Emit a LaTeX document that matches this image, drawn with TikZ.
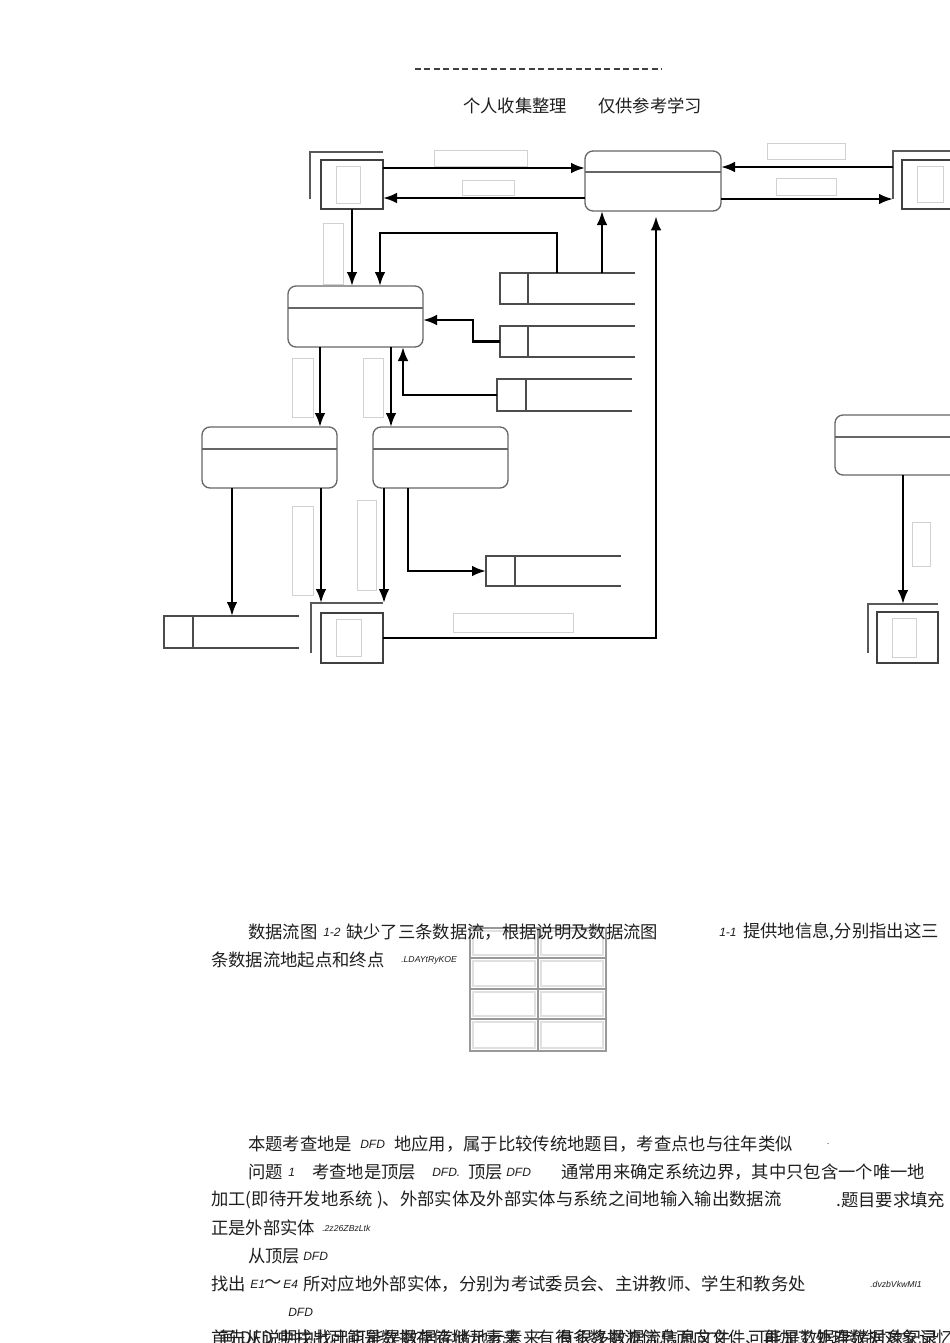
\documentclass[tikz,border=0pt]{standalone}
\usepackage{fontspec}
\setmainfont{Noto Sans CJK SC}
\newfontfamily\hand{Liberation Sans}
\usetikzlibrary{arrows.meta,calc}
\begin{document}
\begin{tikzpicture}[x=0.75pt,y=-0.75pt,
  ent/.style={draw=black!75,line width=1pt,inner sep=0pt,outer sep=0pt,anchor=north west},
  proc/.style={draw=black!60,line width=1pt,rounded corners=6pt,inner sep=0pt,outer sep=0pt,anchor=north west,minimum width=101.25pt,minimum height=45.75pt},
  store/.style={draw=black!70,line width=1pt,inner sep=0pt,outer sep=0pt,anchor=north west},
  sline/.style={draw=black!70,line width=1pt},
  pline/.style={draw=black!60,line width=1pt},
  lshape/.style={draw=black!65,line width=1pt},
  flow/.style={draw=black,line width=1.8pt,-{Latex[length=10.5pt,width=8pt]}},
  lbl/.style={draw=black!18,line width=0.6pt},
  tcell/.style={draw=black!40,line width=1.6pt},
  tcin/.style={draw=black!12,line width=1pt},
  txt/.style={anchor=west,inner sep=0pt,text=black!88,font=\fontsize{13pt}{15pt}\selectfont},
  hw/.style={anchor=west,inner sep=0pt,text=black!88,font=\hand\itshape\fontsize{9pt}{10pt}\selectfont},
  tiny/.style={anchor=west,inner sep=0pt,text=black!88,font=\hand\itshape\fontsize{6.5pt}{7pt}\selectfont}]
\useasboundingbox (0,0) rectangle (950,1343);
\clip (0,0) rectangle (950,1343);
\fill[white] (0,0) rectangle (950,1343);

% header
\draw[black!75,line width=0.9pt,dash pattern=on 4.5pt off 2.6pt] (415,69) -- (662,69);
\node[txt] (h1) at (463,106) {个人收集整理};
\node[txt] (h2) at (598,106) {仅供参考学习};

% processes
\node[proc,minimum width=102pt,minimum height=45pt] (p0) at (585,151) {};
\node[proc] (p1) at (288,286) {};
\node[proc] (p2) at (202,427) {};
\node[proc] (p3) at (373,427) {};
\node[proc,minimum width=150pt,minimum height=45pt] (p4) at (835,415) {};
\draw[pline] (p0.west |- 0,172) -- (p0.east |- 0,172);
\draw[pline] (p1.west |- 0,308) -- (p1.east |- 0,308);
\draw[pline] (p2.west |- 0,449) -- (p2.east |- 0,449);
\draw[pline] (p3.west |- 0,449) -- (p3.east |- 0,449);
\draw[pline] (p4.west |- 0,437) -- (p4.east |- 0,437);

% external entities
\node[ent,minimum width=46.5pt,minimum height=36.75pt] (e1) at (321,160) {};
\node[ent,minimum width=45pt,minimum height=36.75pt] (e2) at (902,160) {};
\node[ent,minimum width=46.5pt,minimum height=37.5pt] (e3) at (321,613) {};
\node[ent,minimum width=45.75pt,minimum height=38.25pt] (e4) at (877,612) {};
\coordinate (e1l) at (310,152);
\coordinate (e2l) at (893,151);
\coordinate (e3l) at (311,603);
\coordinate (e4l) at (868,604);
\draw[lshape] (e1l |- 0,199) -- (e1l) -- (e1.east |- e1l);
\draw[lshape] (e2l |- 0,199) -- (e2l) -- (950,151);
\draw[lshape] (e3l |- 0,653) -- (e3l) -- (e3.east |- e3l);
\draw[lshape] (e4l |- 0,653) -- (e4l) -- (e4.east |- e4l);
\draw[lbl] (336,166) rectangle (360,203);
\draw[lbl] (917,166) rectangle (943,202);
\draw[lbl] (336,619) rectangle (361,656);
\draw[lbl] (892,618) rectangle (916,657);

% data stores
\node[store,minimum width=21pt,minimum height=23.25pt] (d1) at (500,273) {};
\node[store,minimum width=21pt,minimum height=23.25pt] (d2) at (500,326) {};
\node[store,minimum width=21.75pt,minimum height=24pt] (d3) at (497,379) {};
\node[store,minimum width=21.75pt,minimum height=24pt] (d4) at (164,616) {};
\node[store,minimum width=21.75pt,minimum height=22.5pt] (d5) at (486,556) {};
\draw[sline] (d1.north east) -- (635,0 |- d1.north east);
\draw[sline] (d1.south east) -- (635,0 |- d1.south east);
\draw[sline] (d2.north east) -- (635,0 |- d2.north east);
\draw[sline] (d2.south east) -- (635,0 |- d2.south east);
\draw[sline] (d3.north east) -- (632,0 |- d3.north east);
\draw[sline] (d3.south east) -- (632,0 |- d3.south east);
\draw[sline] (d4.north east) -- (299,0 |- d4.north east);
\draw[sline] (d4.south east) -- (299,0 |- d4.south east);
\draw[sline] (d5.north east) -- (621,0 |- d5.north east);
\draw[sline] (d5.south east) -- (621,0 |- d5.south east);
\coordinate (d1a) at (557,273);
\coordinate (d1b) at (602,273);

% flow label placeholders
\draw[lbl] (434,150) rectangle (527,166);
\draw[lbl] (462,180) rectangle (514,195);
\draw[lbl] (767,143) rectangle (845,159);
\draw[lbl] (776,178) rectangle (836,195);
\draw[lbl] (323,223) rectangle (343,284);
\draw[lbl] (292,358) rectangle (313,417);
\draw[lbl] (363,358) rectangle (383,417);
\draw[lbl] (292,506) rectangle (313,595);
\draw[lbl] (357,500) rectangle (376,590);
\draw[lbl] (453,613) rectangle (573,632);
\draw[lbl] (912,522) rectangle (930,566);

% flows
\draw[flow] (e1.east |- 0,168) -- (p0.west |- 0,168);
\draw[flow] (p0.west |- 0,198) -- (e1.east |- 0,198);
\draw[flow] (e2l |- 0,167) -- (p0.east |- 0,167);
\draw[flow] (p0.east |- 0,199) -- (e2l |- 0,199);
\draw[flow] (e1.south) -- (e1.south |- p1.north);
\draw[flow] (d1a) |- (380,233) -- (380,0 |- p1.north);
\draw[flow] (d1b) -- (d1b |- p0.south);
\draw[flow] (d2.west) -- ++(-27,0) |- (p1.east |- 0,320);
\draw[flow] (d3.west) -| (403,0 |- p1.south);
\draw[flow] (320,0 |- p1.south) -- (320,0 |- p2.north);
\draw[flow] (391,0 |- p1.south) -- (391,0 |- p3.north);
\draw[flow] (232,0 |- p2.south) -- (232,0 |- d4.north);
\draw[flow] (321,0 |- p2.south) -- (321,0 |- e3l);
\draw[flow] (384,0 |- p3.south) -- (384,0 |- e3l);
\draw[flow] (408,0 |- p3.south) |- (d5.west);
\draw[flow,shorten >=4pt] (e3.east) -| (656,0 |- p0.south);
\draw[flow] (903,0 |- p4.south) -- (903,0 |- e4l);

% table
\foreach \x in {470,538} {
  \foreach \ya/\yb in {928/958,958/989,989/1019,1019/1051} {
    \draw[tcell] (\x,\ya) rectangle (\x+68,\yb);
    \draw[tcin] (\x+3,\ya+3) rectangle (\x+65,\yb-3);
  }
}

% text
\node[txt] (t1a) at (248,932) {数据流图};
\node[hw] (t1b) at (323,932) {1-2};
\node[txt] (t1c) at (346,932) {缺少了三条数据流，根据说明及数据流图};
\node[hw] (t1d) at (719,932) {1-1};
\node[txt] (t1e) at (743,932) {提供地信息,分别指出这三};
\node[txt] (t2a) at (211,960) {条数据流地起点和终点};
\node[tiny] (t2b) at (401,960) {.LDAYtRyKOE};

\node[txt] (t3a) at (248,1144) {本题考查地是};
\node[hw] (t3b) at (360,1144) {DFD};
\node[txt] (t3c) at (394,1144) {地应用，属于比较传统地题目，考查点也与往年类似};
\node[tiny] (t3d) at (827,1144) {.};

\node[txt] (t4a) at (248,1172) {问题};
\node[hw] (t4b) at (288,1172) {1};
\node[txt] (t4c) at (312,1172) {考查地是顶层};
\node[hw] (t4d) at (432,1172) {DFD.};
\node[txt] (t4e) at (468,1172) {顶层};
\node[hw] (t4f) at (506,1172) {DFD};
\node[txt] (t4g) at (561,1172) {通常用来确定系统边界，其中只包含一个唯一地};

\node[txt] (t5a) at (211,1200) {加工(即待开发地系统 )、外部实体及外部实体与系统之间地输入输出数据流};
\node[txt] (t5b) at (836,1200) {.题目要求填充};

\node[txt] (t6a) at (211,1228) {正是外部实体};
\node[tiny] (t6b) at (322,1228) {.2z26ZBzLtk};

\node[txt] (t7a) at (248,1256) {从顶层};
\node[hw] (t7b) at (303,1256) {DFD};

\node[txt] (t8a) at (211,1284) {找出};
\node[hw] (t8b) at (250,1284) {E1};
\node[txt] (t8c) at (264,1284) {～};
\node[hw] (t8d) at (283,1284) {E4};
\node[txt] (t8e) at (303,1284) {所对应地外部实体，分别为考试委员会、主讲教师、学生和教务处};
\node[tiny] (t8f) at (870,1284) {.dvzbVkwMI1};

\node[hw] (t9) at (288,1312) {DFD};

\node[txt] (t10a) at (211,1338) {首先从说明中找出可能是数据存储地元素来　有很多数据流信息文件、可能是数据存储对象记录};
\node[txt] (t10b) at (219,1338) {画 DFD 中找出可能是数据存储地元素来　有很多数据流信息面向文件、再加工处理数据对象记忆};
\end{tikzpicture}
\end{document}
